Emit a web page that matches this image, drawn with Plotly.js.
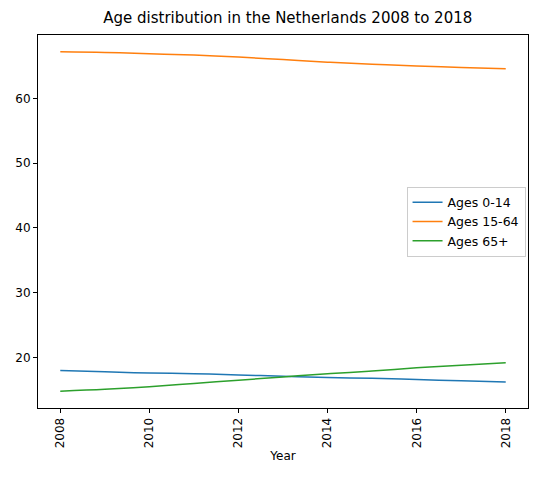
<!DOCTYPE html>
<html>
<head>
<script src="https://cdn.plot.ly/plotly-3.0.1.min.js"></script>
<style>body{margin:0}</style>
</head>
<body>
<div id="chart" style="width:543px;height:481px"></div>
<script>
var years = [2008, 2009, 2010, 2011, 2012, 2013, 2014, 2015, 2016, 2017, 2018];
var ages0to14 = [18.0, 17.8, 17.6, 17.5, 17.3, 17.1, 16.9, 16.8, 16.6, 16.4, 16.2];
var ages15to64 = [67.2, 67.1, 66.9, 66.7, 66.4, 66.0, 65.6, 65.3, 65.0, 64.8, 64.6];
var ages65plus = [14.8, 15.1, 15.5, 16.0, 16.5, 17.0, 17.5, 17.9, 18.4, 18.8, 19.2];

function line(y, name, color) {
    return {x: years, y: y, name: name, mode: 'lines', type: 'scatter',
        line: {color: color, width: 1.5, shape: 'spline'}};
}

var data = [
    line(ages0to14, 'Ages 0-14', '#1f77b4'),
    line(ages15to64, 'Ages 15-64', '#ff7f0e'),
    line(ages65plus, 'Ages 65+', '#2ca02c')
];

var axis = {showgrid: false, zeroline: false, showline: true, mirror: true,
    linecolor: 'black', linewidth: 1, ticks: 'outside', ticklen: 4,
    tickcolor: 'black', tickfont: {size: 12, color: 'black'}};

var layout = {
    width: 543, height: 481,
    margin: {l: 38, r: 15, t: 35, b: 73},
    font: {family: 'DejaVu Sans', color: 'black'},
    paper_bgcolor: 'white', plot_bgcolor: 'white',
    title: {text: 'Age distribution in the Netherlands 2008 to 2018', font: {size: 15}, x: 0.53, y: 0.975},
    xaxis: Object.assign({}, axis, {range: [2007.5, 2018.5], tickvals: [2008, 2010, 2012, 2014, 2016, 2018],
        tickangle: -90, title: {text: 'Year', font: {size: 12}, standoff: 4}}),
    yaxis: Object.assign({}, axis, {range: [12.2, 69.8], tickvals: [20, 30, 40, 50, 60]}),
    legend: {x: 0.995, y: 0.5, xanchor: 'right', yanchor: 'middle', bgcolor: 'white',
        bordercolor: '#cccccc', borderwidth: 1, font: {size: 12.5}},
    showlegend: true
};

Plotly.newPlot('chart', data, layout, {displayModeBar: false});
</script>
</body>
</html>
